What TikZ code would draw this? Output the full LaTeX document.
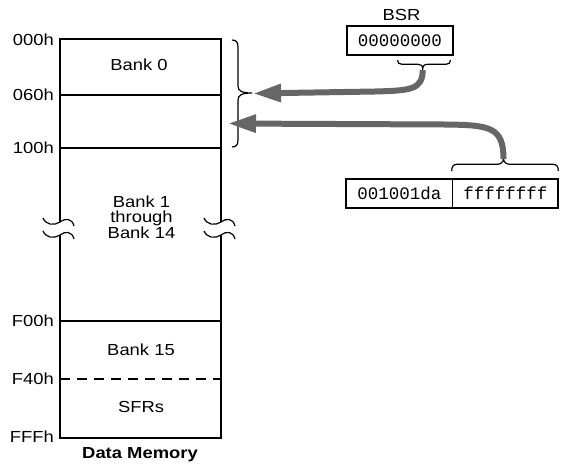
\documentclass[tikz,border=0pt]{standalone}
\usepackage{fontspec}
\setmainfont[FakeStretch=1.15]{Liberation Sans}
\setmonofont{Liberation Mono}
\usetikzlibrary{arrows.meta}
\definecolor{arrowgray}{RGB}{102,102,102}
\begin{document}
\begin{tikzpicture}[x=1pt,y=-1pt,
  memline/.style={line width=1.6pt},
  lbl/.style={font=\fontsize{16}{15.5}\selectfont, inner sep=0pt},
  addr/.style={lbl, anchor=east, text height=11.5pt, text depth=0pt},
  reg/.style={draw, line width=1.6pt, minimum height=29pt, inner sep=0pt, font=\ttfamily\fontsize{17.5}{18}\selectfont},
  brc/.style={line width=1.2pt},
  ptr/.style={draw=arrowgray, line width=6pt, -{Triangle[length=28pt,width=17pt]}},
  brk/.pic={\draw[line width=1.2pt] (-17,-4) .. controls (-14,3) and (-6,4) .. (0,0) .. controls (5,-4) and (12,-4) .. (14,4);}]
\useasboundingbox (0,0) rectangle (564,466);

% memory outline
\draw[memline] (60,39) -- (221,39);
\draw[memline] (60,95) -- (221,95);
\draw[memline] (60,148) -- (221,148);
\draw[memline] (60,321) -- (221,321);
\draw[memline, dash pattern=on 10pt off 7pt] (60,379) -- (221,379);
\draw[memline] (60,438) -- (221,438);
\draw[memline] (60,38.2) -- (60,222);
\draw[memline] (60,235) -- (60,438.8);
\draw[memline] (221,38.2) -- (221,222);
\draw[memline] (221,235) -- (221,438.8);
\pic at (60,222) {brk};
\pic at (60,235) {brk};
\pic at (221,222) {brk};
\pic at (221,235) {brk};

% addresses
\node[addr] (a000) at (54,40) {000h};
\node[addr] (a060) at (54,95) {060h};
\node[addr] (a100) at (54,148) {100h};
\node[addr] (aF00) at (54,321) {F00h};
\node[addr] (aF40) at (54,379) {F40h};
\node[addr] (aFFF) at (54,437) {FFFh};

% bank labels
\node[lbl] (bank0) at (139,65) {Bank 0};
\node[lbl, align=center] (bank1) at (141.5,217) {Bank 1\\through\\Bank 14};
\node[lbl] (bank15) at (141,350) {Bank 15};
\node[lbl] (sfrs) at (141,407) {SFRs};
\node[lbl, font=\bfseries\fontsize{16}{16}\selectfont] (dm) at (140,455) {Data Memory};

% memory brace
\draw[brc] (232,40) .. controls (236,40) and (238,42) .. (238,47) -- (238,86)
  .. controls (238,91) and (242,93) .. (252,93)
  .. controls (242,93) and (238,95) .. (238,100) -- (238,140)
  .. controls (238,145) and (236,147) .. (232,147);
\coordinate (memtip) at (253,93.5);
\coordinate (memtip2) at (228,123.5);

% BSR
\node[lbl] (bsrl) at (401.5,15) {BSR};
\node[reg, minimum width=106pt] (bsr) at (400,40.5) {00000000};
\draw[brc] (397.5,60) .. controls (397.5,63) and (399,64.3) .. (402,64.3) -- (418,64.3)
  .. controls (421,64.3) and (422.7,65.5) .. (422.7,69)
  .. controls (422.7,65.5) and (424.5,64.3) .. (428,64.3) -- (446,64.3)
  .. controls (449,64.3) and (450.5,63) .. (450.5,60);
\coordinate (bsrtip) at (422.7,70);

% address register
\node[reg, minimum width=106.7pt] (lo) at (399.3,193.5) {001001da};
\node[reg, minimum width=105.3pt] (hi) at (505.3,193.5) {ffffffff};
\draw[brc] (451.7,171) .. controls (451.7,167) and (453,164.3) .. (457,164.3) -- (497,164.3)
  .. controls (501,164.3) and (503.5,162) .. (503.5,158.3)
  .. controls (503.5,162) and (506,164.3) .. (510,164.3) -- (553,164.3)
  .. controls (557,164.3) and (558.3,167) .. (558.3,171);
\coordinate (lotip) at (503.5,159);

% pointers
\draw[ptr] (bsrtip) .. controls (422.7,90) and (410,90.5) .. (375,91.5) -- (memtip);
\draw[ptr] (lotip) .. controls (503.5,127) and (490,125) .. (445,124.5) -- (memtip2);
\end{tikzpicture}
\end{document}
